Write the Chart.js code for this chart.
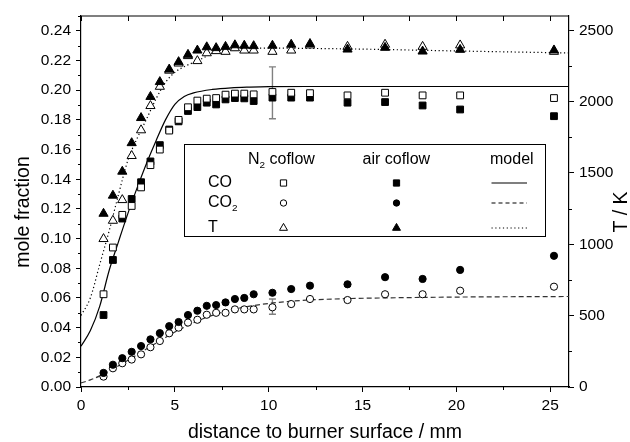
<!DOCTYPE html>
<html>
<head>
<meta charset="utf-8">
<script src="https://cdn.jsdelivr.net/npm/chart.js@4.4.1/dist/chart.umd.min.js"></script>
<style>
  html, body { margin: 0; padding: 0; background: #fff; }
  #wrap { width: 630px; height: 442px; }
</style>
</head>
<body>
<div id="wrap"><canvas id="chart"></canvas></div>
<script>
// measured distances (mm)
const distance = [1.2, 1.7, 2.2, 2.7, 3.2, 3.7, 4.2, 4.7, 5.2, 5.7, 6.2, 6.7, 7.2, 7.7, 8.2, 8.7, 9.2, 10.2, 11.2, 12.2, 14.2, 16.2, 18.2, 20.2, 25.2];

// mole fractions
const coN2 = [0.0625, 0.094, 0.116, 0.122, 0.1345, 0.1495, 0.160, 0.1728, 0.180, 0.1885, 0.193, 0.1943, 0.1947, 0.197, 0.1977, 0.1977, 0.1972, 0.1988, 0.1983, 0.198, 0.1965, 0.1983, 0.1965, 0.1965, 0.1947];
const coAir = [0.0485, 0.0856, 0.1135, 0.1267, 0.138, 0.152, 0.163, 0.1735, 0.179, 0.186, 0.1886, 0.1916, 0.1904, 0.1938, 0.1947, 0.1945, 0.1927, 0.195, 0.195, 0.195, 0.1916, 0.192, 0.1897, 0.187, 0.1825];
const co2N2 = [0.0070, 0.0126, 0.016, 0.0185, 0.022, 0.0268, 0.031, 0.0362, 0.040, 0.0434, 0.0453, 0.0487, 0.050, 0.050, 0.0523, 0.0523, 0.0523, 0.0537, 0.0559, 0.0593, 0.0586, 0.0625, 0.0625, 0.0649, 0.0676];
const co2Air = [0.0095, 0.015, 0.0194, 0.0237, 0.0276, 0.0321, 0.0363, 0.041, 0.0438, 0.0485, 0.0514, 0.0547, 0.0552, 0.057, 0.0593, 0.060, 0.0625, 0.0635, 0.066, 0.0683, 0.0692, 0.074, 0.0728, 0.0789, 0.0884];

// temperatures (K)
const tN2 = [1038, 1166, 1311, 1620, 1800, 1970, 2105, 2218, 2268, 2320, 2285, 2340, 2355, 2350, 2375, 2359, 2359, 2350, 2359, 2395, 2385, 2400, 2385, 2395, 2350];
const tAir = [1215, 1342, 1510, 1710, 1886, 2034, 2138, 2226, 2278, 2329, 2359, 2382, 2376, 2385, 2396, 2393, 2390, 2393, 2400, 2405, 2366, 2378, 2352, 2364, 2360];

// model curves
const coModelX = [0, 0.5, 1, 1.5, 2, 2.5, 3, 3.5, 4, 4.5, 5, 5.5, 6, 7, 8, 9, 10, 12, 15, 20, 26];
const coModel = [0.0275, 0.038, 0.0545, 0.0785, 0.098, 0.117, 0.1345, 0.151, 0.166, 0.180, 0.1905, 0.1958, 0.1982, 0.2005, 0.2016, 0.2021, 0.2024, 0.2025, 0.2025, 0.2025, 0.2025];
const co2ModelX = [0, 0.5, 1, 1.5, 2, 2.5, 3, 3.5, 4, 4.5, 5, 5.5, 6, 6.5, 7, 7.5, 8, 9, 10, 11, 12, 14, 16, 20, 26];
const co2Model = [0.0027, 0.0048, 0.0075, 0.0108, 0.0143, 0.018, 0.0218, 0.0257, 0.0295, 0.0333, 0.037, 0.0403, 0.0433, 0.046, 0.0483, 0.0503, 0.052, 0.0545, 0.0563, 0.0576, 0.0585, 0.0595, 0.06, 0.0606, 0.061];
const tModelX = [0, 0.5, 1, 1.5, 2, 2.5, 3, 3.5, 4, 4.5, 5, 5.5, 6, 6.5, 7, 7.5, 8, 10, 12, 15, 20, 26];
const tModel = [501, 625, 860, 1094, 1350, 1590, 1745, 1880, 2020, 2135, 2205, 2245, 2275, 2305, 2340, 2360, 2370, 2375, 2373, 2368, 2355, 2341];

// error bars (N2 coflow, at 10.2 mm)
const errorX = [10.2, 10.2];
const errorLow = [0.1808, 0.049];
const errorHigh = [0.2157, 0.0593];

// tick labels
const xTicks = [0, 5, 10, 15, 20, 25];
const yTicks = [0, 0.02, 0.04, 0.06, 0.08, 0.10, 0.12, 0.14, 0.16, 0.18, 0.20, 0.22, 0.24];
const tTicks = [0, 500, 1000, 1500, 2000, 2500];

const FONT = 'Liberation Sans, Arial, sans-serif';

const pts = (xs, ys) => xs.map((x, i) => ({ x: x, y: ys[i] }));
const fixTicks = list => (s => { s.ticks = list.map(v => ({ value: v })); });

function marker(label, ys, style, filled, axis, order) {
    return {
        label: label,
        data: pts(distance, ys),
        yAxisID: axis,
        pointStyle: style,
        pointRadius: style === 'circle' ? 3.6 : (style === 'rect' ? 4.8 : 5.3),
        pointBackgroundColor: filled ? '#000' : '#fff',
        pointBorderColor: '#000',
        pointBorderWidth: 1,
        showLine: false,
        order: order
    };
}

function model(label, xs, ys, dash, axis, color) {
    return {
        label: label,
        data: pts(xs, ys),
        yAxisID: axis,
        showLine: true,
        pointRadius: 0,
        borderColor: color,
        borderWidth: 1.2,
        borderDash: dash,
        cubicInterpolationMode: 'monotone',
        order: 10
    };
}

function drawMark(ctx, style, filled, x, y, r) {
    ctx.beginPath();
    if (style === 'rect') {
        const s = r * Math.SQRT1_2;
        ctx.rect(x - s, y - s, 2 * s, 2 * s);
    } else if (style === 'circle') {
        ctx.arc(x, y, r, 0, Math.PI * 2);
    } else {
        ctx.moveTo(x, y - r);
        ctx.lineTo(x + r * 0.866, y + r * 0.5);
        ctx.lineTo(x - r * 0.866, y + r * 0.5);
        ctx.closePath();
    }
    ctx.fillStyle = filled ? '#000' : '#fff';
    ctx.fill();
    ctx.strokeStyle = '#000';
    ctx.lineWidth = 1;
    ctx.stroke();
}

// text with a subscript part: [['CO', false], ['2', true]]
function drawParts(ctx, parts, x, y, size) {
    let cx = x;
    parts.forEach(p => {
        const sub = p[1];
        ctx.font = (sub ? size * 0.62 : size) + 'px ' + FONT;
        ctx.fillText(p[0], cx, sub ? y + size * 0.3 : y);
        cx += ctx.measureText(p[0]).width;
    });
}

function vText(ctx, text, x, y) {
    ctx.save();
    ctx.translate(x, y);
    ctx.rotate(-Math.PI / 2);
    ctx.fillText(text, 0, 0);
    ctx.restore();
}

const framePlugin = {
    id: 'frame',
    beforeDatasetsDraw(chart) {
        const { ctx, scales: { x, y } } = chart;
        ctx.save();
        ctx.strokeStyle = '#808080';
        ctx.lineWidth = 1.4;
        errorX.forEach((ex, i) => {
            const px = x.getPixelForValue(ex);
            const top = y.getPixelForValue(errorHigh[i]);
            const bot = y.getPixelForValue(errorLow[i]);
            ctx.beginPath();
            ctx.moveTo(px, top); ctx.lineTo(px, bot);
            ctx.moveTo(px - 3.5, top); ctx.lineTo(px + 3.5, top);
            ctx.moveTo(px - 3.5, bot); ctx.lineTo(px + 3.5, bot);
            ctx.stroke();
        });
        ctx.restore();
    },
    afterDraw(chart) {
        const { ctx, chartArea: a, scales: { x, y, y1 } } = chart;
        ctx.save();
        ctx.strokeStyle = '#000';
        ctx.lineWidth = 1.2;
        ctx.beginPath();
        ctx.moveTo(a.left, a.top); ctx.lineTo(a.right, a.top);
        ctx.stroke();

        ctx.lineWidth = 1;
        ctx.beginPath();
        // top ticks, inward
        for (let v = 0; v <= 26; v += 2.5) {
            const px = Math.round(x.getPixelForValue(v)) + 0.5;
            ctx.moveTo(px, a.top); ctx.lineTo(px, a.top + 5);
        }
        // bottom minor ticks
        for (let v = 2.5; v <= 26; v += 5) {
            const px = Math.round(x.getPixelForValue(v)) + 0.5;
            ctx.moveTo(px, a.bottom); ctx.lineTo(px, a.bottom + 3);
        }
        // left minor ticks
        for (let v = 0.01; v < 0.25; v += 0.02) {
            const py = Math.round(y.getPixelForValue(v)) + 0.5;
            ctx.moveTo(a.left, py); ctx.lineTo(a.left - 3, py);
        }
        // right minor ticks
        for (let v = 250; v < 2600; v += 500) {
            const py = Math.round(y1.getPixelForValue(v)) + 0.5;
            ctx.moveTo(a.right, py); ctx.lineTo(a.right + 3, py);
        }
        ctx.stroke();

        // axis titles, reading bottom to top
        ctx.fillStyle = '#000';
        ctx.font = '19.5px ' + FONT;
        ctx.textAlign = 'center';
        ctx.textBaseline = 'middle';
        vText(ctx, 'mole fraction', 24, 212);
        vText(ctx, 'T / K', 621.5, 212);

        // legend box
        const L = 184.5, T = 144.5, R = 545.5, B = 236.5;
        ctx.fillStyle = '#fff';
        ctx.fillRect(L, T, R - L, B - T);
        ctx.strokeStyle = '#000';
        ctx.lineWidth = 1;
        ctx.strokeRect(L, T, R - L, B - T);

        ctx.fillStyle = '#000';
        ctx.textAlign = 'left';
        ctx.textBaseline = 'middle';
        const fs = 16;
        drawParts(ctx, [['N', false], ['2', true], [' coflow', false]], 248, 160, fs);
        drawParts(ctx, [['air coflow', false]], 362.5, 160, fs);
        drawParts(ctx, [['model', false]], 490, 160, fs);

        const rows = [
            { parts: [['CO', false]], y: 183, style: 'rect', dash: [] },
            { parts: [['CO', false], ['2', true]], y: 203, style: 'circle', dash: [4, 3] },
            { parts: [['T', false]], y: 228, style: 'triangle', dash: [1.2, 2.6] }
        ];
        rows.forEach(r => {
            ctx.fillStyle = '#000';
            drawParts(ctx, r.parts, 208, r.y, fs);
            const rad = r.style === 'circle' ? 3.2 : (r.style === 'rect' ? 4.4 : 4.6);
            drawMark(ctx, r.style, false, 283.5, r.y, rad);
            drawMark(ctx, r.style, true, 396.5, r.y, rad);
            ctx.strokeStyle = '#000';
            ctx.lineWidth = 1.1;
            ctx.setLineDash(r.dash);
            ctx.beginPath();
            ctx.moveTo(491.5, r.y); ctx.lineTo(527, r.y);
            ctx.stroke();
            ctx.setLineDash([]);
        });
        ctx.restore();
    }
};

const tickFont = { family: FONT, size: 15.5 };

new Chart(document.getElementById('chart'), {
    type: 'scatter',
    data: {
        datasets: [
            model('CO model', coModelX, coModel, [], 'y', '#000'),
            model('CO2 model', co2ModelX, co2Model, [5, 3], 'y', '#333'),
            model('T model', tModelX, tModel, [1.2, 2.6], 'y1', '#000'),
            marker('CO air coflow', coAir, 'rect', true, 'y', 5),
            marker('CO N2 coflow', coN2, 'rect', false, 'y', 4),
            marker('CO2 N2 coflow', co2N2, 'circle', false, 'y', 5),
            marker('CO2 air coflow', co2Air, 'circle', true, 'y', 4),
            marker('T N2 coflow', tN2, 'triangle', false, 'y1', 5),
            marker('T air coflow', tAir, 'triangle', true, 'y1', 4)
        ]
    },
    options: {
        responsive: true,
        maintainAspectRatio: false,
        animation: false,
        layout: { padding: { top: 16, left: 0, right: 0, bottom: 0 } },
        plugins: {
            legend: { display: false },
            tooltip: { enabled: false }
        },
        scales: {
            x: {
                type: 'linear',
                position: 'bottom',
                min: 0,
                max: 26,
                afterBuildTicks: fixTicks(xTicks),
                ticks: { color: '#000', font: tickFont, padding: 4, maxRotation: 0, autoSkip: false, callback: v => String(v) },
                grid: { drawOnChartArea: false, drawTicks: true, tickLength: 5, color: '#000' },
                border: { color: '#000', width: 1.2 },
                title: {
                    display: true,
                    text: 'distance to burner surface / mm',
                    color: '#000',
                    font: { family: FONT, size: 19.5, lineHeight: 1 },
                    padding: { top: 0, bottom: 0 }
                },
                afterFit(s) { s.height = 55; }
            },
            y: {
                type: 'linear',
                position: 'left',
                min: 0,
                max: 0.25,
                afterBuildTicks: fixTicks(yTicks),
                ticks: { color: '#000', font: tickFont, padding: 5, autoSkip: false, callback: v => v.toFixed(2) },
                grid: { drawOnChartArea: false, drawTicks: true, tickLength: 5, color: '#000' },
                border: { color: '#000', width: 1.2 },
                afterFit(s) { s.width = 81; }
            },
            y1: {
                type: 'linear',
                position: 'right',
                min: 0,
                max: 2600,
                afterBuildTicks: fixTicks(tTicks),
                ticks: { color: '#000', font: tickFont, padding: 5, autoSkip: false, callback: v => String(v) },
                grid: { drawOnChartArea: false, drawTicks: true, tickLength: 5, color: '#000' },
                border: { color: '#000', width: 1.2 },
                afterFit(s) { s.width = 61; }
            }
        }
    },
    plugins: [framePlugin]
});
</script>
</body>
</html>
